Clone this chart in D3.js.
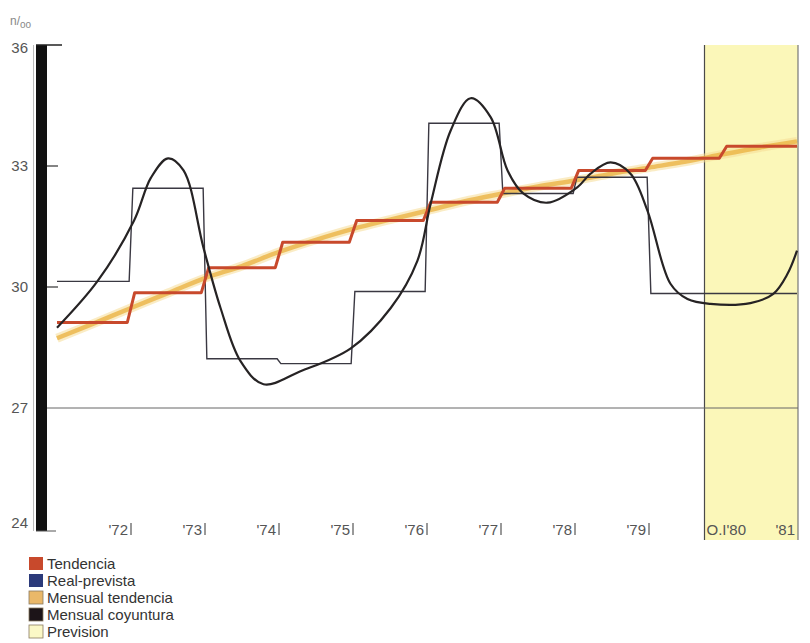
<!DOCTYPE html>
<html><head><meta charset="utf-8">
<script src="https://cdn.jsdelivr.net/npm/d3@7"></script>
<style>body{margin:0;background:#fff}svg{display:block;font-family:"Liberation Sans",Arial,sans-serif}</style>
</head><body><svg id="c" width="810" height="643"></svg>
<script>
// ---- data ----
const stepYears = [1971,1972,1973,1974,1975,1976,1977,1978,1979,1980];
const tendencia = [29.12,29.86,30.48,31.11,31.65,32.10,32.45,32.89,33.19,33.49];
const realPrevista = [30.14,32.45,28.22,28.10,29.89,34.06,32.32,32.72,29.84,29.84];
const mtYears = [1971,1971.5,1972,1972.5,1973,1973.5,1974,1974.5,1975,1975.5,1976,1976.5,1977,1977.5,1978,1978.5,1979,1979.5,1980,1980.5,1981];
const mensualTendencia = [28.73,29.1,29.48,29.85,30.22,30.52,30.87,31.17,31.44,31.67,31.89,32.12,32.31,32.49,32.64,32.81,32.96,33.11,33.29,33.46,33.61];
const mcYears = [1971.0,1971.55,1972.04,1972.27,1972.5,1972.71,1972.98,1973.21,1973.48,1973.79,1974.29,1974.97,1975.51,1975.87,1976.05,1976.32,1976.59,1976.86,1977.09,1977.30,1977.63,1978.03,1978.21,1978.48,1978.75,1978.98,1979.29,1979.52,1979.83,1980.37,1980.68,1980.87,1981.0];
const mensualCoyuntura = [28.99,30.15,31.64,32.71,33.19,32.89,30.97,29.48,28.16,27.59,27.91,28.48,29.48,30.65,32.07,33.88,34.68,34.21,32.88,32.32,32.09,32.47,32.81,33.09,32.81,31.89,30.08,29.70,29.58,29.60,29.83,30.32,30.90];
const yTicks = [24,27,30,33,36];
const xTickYears = [1972,1973,1974,1975,1976,1977,1978,1979];
const xTickLabels = ["'72","'73","'74","'75","'76","'77","'78","'79"];
const previsionStart = 1979.75, previsionLabel = "O.I'80";
const endYear = 1981, endLabel = "'81";
const legendNames = ["Tendencia","Real-prevista","Mensual tendencia","Mensual coyuntura","Prevision"];
const legendColors = ["#c8492c","#2b3a7a","#eab869","#1c1418","#fbf8c6"];

// ---- scales ----
const svg = d3.select("#c");
const x = d3.scaleLinear().domain([1971, 1981]).range([57, 797]);
const y = d3.scaleLinear().domain([24, 36]).range([529, 45]);

svg.append("rect").attr("width",810).attr("height",643).attr("fill","#fff");

// prevision region
svg.append("rect").attr("x", x(previsionStart)).attr("y", y(36))
  .attr("width", x(endYear) + 1 - x(previsionStart)).attr("height", 540 - y(36))
  .attr("fill", "#fbf7b9");
svg.append("line").attr("x1", x(previsionStart)).attr("x2", x(previsionStart))
  .attr("y1", y(36)).attr("y2", 540).attr("stroke", "#4a4a4a").attr("stroke-width", 1.2);
svg.append("line").attr("x1", x(endYear)+1).attr("x2", x(endYear)+1)
  .attr("y1", y(36)).attr("y2", 540).attr("stroke", "#777").attr("stroke-width", 1.2);

// 27 reference line
svg.append("line").attr("x1", 47).attr("x2", x(endYear)+1).attr("y1", y(27)).attr("y2", y(27))
  .attr("stroke", "#666").attr("stroke-width", 1);

// y axis bar
svg.append("rect").attr("x", 36).attr("y", y(36)).attr("width", 11).attr("height", y(24)-y(36)+2).attr("fill","#111");
svg.append("line").attr("x1",33.5).attr("x2",33.5).attr("y1",y(36)).attr("y2",y(24)+2).attr("stroke","#bbb").attr("stroke-width",1);
svg.append("line").attr("x1",36).attr("x2",62).attr("y1",y(36)).attr("y2",y(36)).attr("stroke","#222").attr("stroke-width",1.5);
svg.append("line").attr("x1",36).attr("x2",56).attr("y1",y(24)+2).attr("y2",y(24)+2).attr("stroke","#555").attr("stroke-width",1);
[33,30].forEach(v=>{
  svg.append("line").attr("x1",47).attr("x2",58).attr("y1",y(v)).attr("y2",y(v)).attr("stroke","#333").attr("stroke-width",1.2);
});
svg.selectAll("text.yt").data(yTicks).join("text").attr("class","yt")
  .attr("x", 28).attr("y", (d,i)=> i===4 ? y(d)+8 : i===0 ? y(d)-1 : y(d)+5)
  .attr("text-anchor","end").attr("font-size",15).attr("fill","#555").text(d=>d);
const unit = svg.append("text").attr("x",10).attr("y",25).attr("font-size",12).attr("fill","#888");
unit.append("tspan").text("n/");
unit.append("tspan").attr("dy",3).attr("font-size",10).text("oo");

// x labels
xTickYears.forEach((yr,i)=>{
  svg.append("text").attr("x", x(yr)-3).attr("y",535).attr("text-anchor","end")
    .attr("font-size",15).attr("fill","#555").text(xTickLabels[i]);
  svg.append("line").attr("x1",x(yr)).attr("x2",x(yr)).attr("y1",523).attr("y2",535)
    .attr("stroke","#555").attr("stroke-width",1.2);
});
svg.append("text").attr("x", x(previsionStart)+2).attr("y",535).attr("font-size",15).attr("fill","#555").text(previsionLabel);
svg.append("text").attr("x", x(endYear)-2).attr("y",535).attr("text-anchor","end").attr("font-size",15).attr("fill","#555").text(endLabel);

// helpers
function stepPoints(vals, r){
  const pts = [[stepYears[0], vals[0]]];
  for(let i=0;i<vals.length;i++){
    const next = i+1<stepYears.length ? stepYears[i+1] : endYear;
    if(i+1<vals.length){ pts.push([next - r, vals[i]]); pts.push([next + r, vals[i+1]]); }
    else pts.push([next, vals[i]]);
  }
  return pts;
}
const lineLin = d3.line().x(d=>x(d[0])).y(d=>y(d[1]));

// mensual tendencia (band)
const mt = mtYears.map((yr,i)=>[yr, mensualTendencia[i]]);
const lineSmooth = d3.line().x(d=>x(d[0])).y(d=>y(d[1])).curve(d3.curveMonotoneX);
svg.append("path").attr("d", lineSmooth(mt)).attr("fill","none").attr("stroke","#f6dd95").attr("stroke-width",9).attr("stroke-opacity",0.55);
svg.append("path").attr("d", lineSmooth(mt)).attr("fill","none").attr("stroke","#ebb445").attr("stroke-width",4.5).attr("stroke-opacity",0.8);

// real-prevista
svg.append("path").attr("d", lineLin(stepPoints(realPrevista, 0.025))).attr("fill","none")
  .attr("stroke","#3a3842").attr("stroke-width",1.4);

// tendencia
svg.append("path").attr("d", lineLin(stepPoints(tendencia, 0.05))).attr("fill","none")
  .attr("stroke","#c8492c").attr("stroke-width",3).attr("stroke-linejoin","round");

// mensual coyuntura
const mc = mcYears.map((yr,i)=>[yr, mensualCoyuntura[i]]);
svg.append("path").attr("d", d3.line().x(d=>x(d[0])).y(d=>y(d[1])).curve(d3.curveCatmullRom.alpha(0.5))(mc))
  .attr("fill","none").attr("stroke","#262324").attr("stroke-width",2.2);

// legend
legendNames.forEach((n,i)=>{
  const yy = 557 + i*17;
  svg.append("rect").attr("x",29).attr("y",yy).attr("width",14).attr("height",13)
    .attr("fill",legendColors[i]).attr("stroke", i>=2 ? "#8a7a60" : "none").attr("stroke-width",0.8);
  svg.append("text").attr("x",47).attr("y",yy+12).attr("font-size",15).attr("fill","#333").text(n);
});
</script></body></html>
